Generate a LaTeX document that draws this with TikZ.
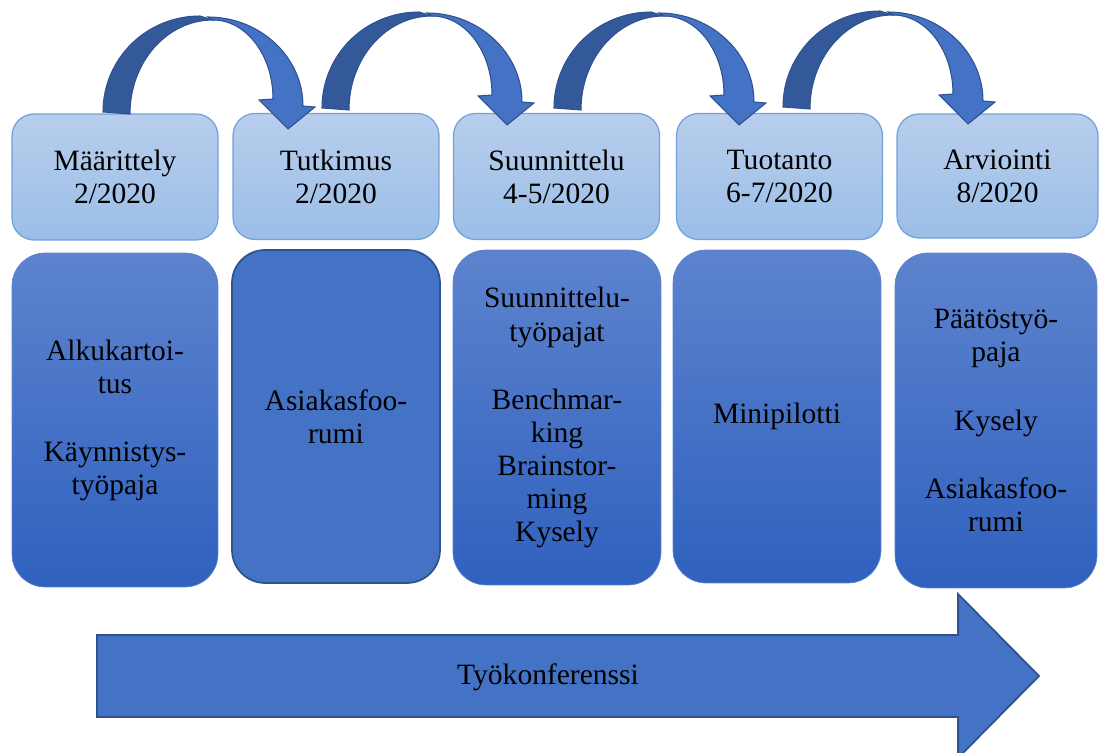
\documentclass[tikz,border=0pt]{standalone}
\usepackage{fontspec}
\setmainfont{Liberation Serif}
\usetikzlibrary{positioning}

\definecolor{palehi}{RGB}{184,206,237}
\definecolor{palelo}{RGB}{155,190,231}
\definecolor{paleedge}{RGB}{114,160,216}
\definecolor{midblue}{RGB}{93,131,206}
\definecolor{deepblue}{RGB}{47,97,190}
\definecolor{office}{RGB}{68,114,196}
\definecolor{officeedge}{RGB}{47,82,143}
\definecolor{backblue}{RGB}{52,89,155}

% one hop arrow between two phases, origin = outer foot
\newcommand{\hoparrow}[2]{%
\begin{scope}[shift={(#1,#2)}]
\filldraw[fill=backblue,draw=officeedge,line width=.6pt] (0,0) .. controls (0,-53) and (43,-96) .. (97,-96) -- (110,-92) .. controls (64,-92) and (27,-50) .. (27,2) -- cycle;
\filldraw[fill=office,draw=officeedge,line width=.6pt] (105,-95) .. controls (157,-95) and (200,-55) .. (200,-6) -- (212,-5) -- (185,17) -- (156,-12) -- (170,-13) .. controls (170,-57) and (143,-92) .. (110,-92) -- cycle;
\end{scope}}

\begin{document}
\begin{tikzpicture}[x=0.02cm,y=-0.02cm,
  every node/.style={font=\fontsize{16.8}{18.8}\selectfont,align=center,inner sep=0pt},
  phase/.style={rectangle,rounded corners=0.44cm,draw=paleedge,line width=.7pt,top color=palehi,bottom color=palelo,minimum width=4.12cm,minimum height=2.52cm},
  task/.style={rectangle,rounded corners=0.66cm,draw=midblue,line width=.4pt,top color=midblue,bottom color=deepblue,minimum width=4.16cm,minimum height=6.68cm}]
\useasboundingbox (0,0) rectangle (1099,753);
\clip (0,0) rectangle (1099,753);

% phases
\node[phase] (t1) at (115,177) {Määrittely\\2/2020};
\node[phase] (t2) at (336,176.5) {Tutkimus\\2/2020};
\node[phase] (t3) at (556.5,176.5) {Suunnittelu\\4-5/2020};
\node[phase] (t4) at (779.5,176.5) {Tuotanto\\6-7/2020};
\node[phase,minimum width=4.02cm,minimum height=2.48cm] (t5) at (997.5,176) {Arviointi\\8/2020};

% methods
\node[task,minimum width=4.12cm] (b1) at (115,420) {Alkukartoi-\\tus\\[.7cm]Käynnistys-\\työpaja};
\node[task,draw=officeedge,line width=1pt,fill=office,top color=office,bottom color=office,minimum height=6.66cm] (b2) at (336,416.5) {Asiakasfoo-\\rumi};
\node[task,minimum height=6.7cm] (b3) at (557,417.5) {Suunnittelu-\\työpajat\\[.7cm]Benchmar-\\king\\Brainstor-\\ming\\Kysely};
\node[task,minimum height=6.66cm] (b4) at (777,416.5) {Minipilotti};
\node[task,minimum width=4.04cm,minimum height=6.7cm] (b5) at (996,420.5) {Päätöstyö-\\paja\\[.7cm]Kysely\\[.7cm]Asiakasfoo-\\rumi};

% hops
\hoparrow{103}{112}
\hoparrow{322}{108}
\hoparrow{554}{108}
\hoparrow{783}{107}

% conference arrow
\filldraw[fill=office,draw=officeedge,line width=1pt] (97,635) -- (958,635) -- (958,594) -- (1039,676) -- (958,758) -- (958,717) -- (97,717) -- cycle;
\node (konf) at (548,677) {Työkonferenssi};
\end{tikzpicture}
\end{document}
